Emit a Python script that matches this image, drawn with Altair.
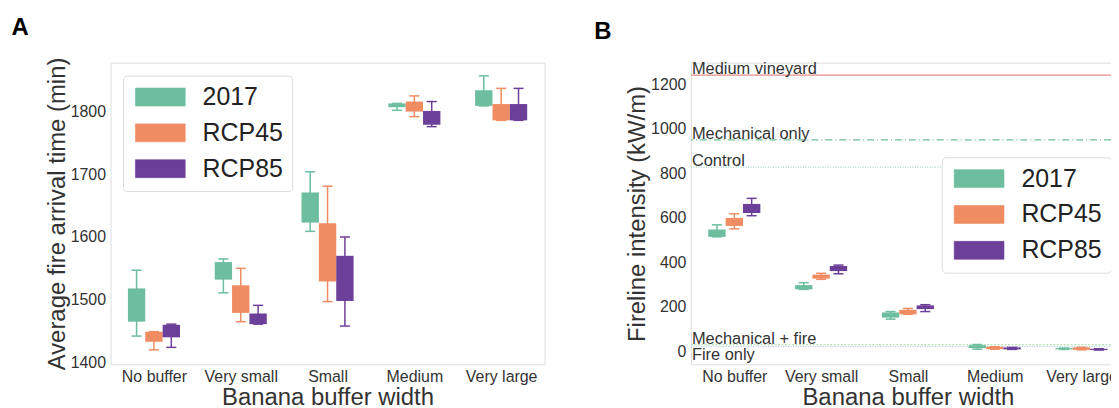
import altair as alt
import pandas as pd

FONT = "Liberation Sans"

categories = ["No buffer", "Very small", "Small", "Medium", "Very large"]
scenarios = ["2017", "RCP45", "RCP85"]
colors = ["#6cbe9f", "#ef8c62", "#6c3f99"]

# Panel A: average fire arrival time (min)
a_lo = {"2017": [1442, 1511, 1609, 1802, 1809],
        "RCP45": [1420, 1465, 1497, 1792, 1786],
        "RCP85": [1424, 1461, 1458, 1776, 1786]}
a_q1 = {"2017": [1465, 1532, 1623, 1807, 1809],
        "RCP45": [1433, 1479, 1529, 1800, 1786],
        "RCP85": [1440, 1461, 1498, 1779, 1786]}
a_q3 = {"2017": [1518, 1560, 1671, 1813, 1834],
        "RCP45": [1449, 1523, 1622, 1816, 1812],
        "RCP85": [1460, 1478, 1570, 1801, 1812]}
a_hi = {"2017": [1547, 1565, 1704, 1813, 1857],
        "RCP45": [1449, 1550, 1681, 1825, 1837],
        "RCP85": [1461, 1491, 1600, 1816, 1837]}

# Panel B: fireline intensity (kW/m)
b_lo = {"2017": [515, 279, 145, 10, 9],
        "RCP45": [551, 324, 167, 10, 7],
        "RCP85": [610, 349, 179, 9, 6]}
b_q1 = {"2017": [515, 279, 152, 15, 9],
        "RCP45": [564, 327, 167, 10, 7],
        "RCP85": [622, 361, 190, 9, 6]}
b_q3 = {"2017": [548, 298, 175, 28, 15],
        "RCP45": [600, 345, 187, 21, 18],
        "RCP85": [663, 384, 207, 18, 12]}
b_hi = {"2017": [569, 309, 179, 31, 15],
        "RCP45": [619, 351, 193, 21, 18],
        "RCP85": [688, 388, 210, 18, 12]}

ref_names = ["Medium vineyard", "Mechanical only", "Control", "Mechanical + fire", "Fire only"]
ref_values = [1242, 951, 828, 30, 22]
ref_colors = ["#e88c8c", "#6fbf98", "#9fd2c4", "#a3d9a3", "#a9c9e0"]
ref_dashes = [[1, 0], [7, 3, 1, 3], [1, 1.5], [2, 1.5], [1, 1.5]]

PLOT_W = 436
PLOT_H = 303
STEP = 87.2


def build_df(lo, q1, q3, hi):
    rows = []
    for s in scenarios:
        for i, c in enumerate(categories):
            rows.append({"idx": i, "cat": c, "scenario": s,
                         "sidx": scenarios.index(s),
                         "lo": lo[s][i], "q1": q1[s][i], "q3": q3[s][i], "hi": hi[s][i]})
    return pd.DataFrame(rows)


label_expr = "[" + ",".join("'" + c + "'" for c in categories) + "][datum.value]"
color_scale = alt.Scale(domain=scenarios, range=colors)


def panel(df, ydomain, yticks, ytitle, letter, letter_dx, legend_x, legend_y, extra=None):
    base = alt.Chart(df).transform_calculate(
        pos="datum.idx + (datum.sidx - 1) * 0.2",
        xl="datum.idx + (datum.sidx - 1) * 0.2 - 0.1",
        xr="datum.idx + (datum.sidx - 1) * 0.2 + 0.1",
        cl="datum.idx + (datum.sidx - 1) * 0.2 - 0.058",
        cr="datum.idx + (datum.sidx - 1) * 0.2 + 0.058",
    )
    xdom = [-0.5, -0.5 + PLOT_W / STEP]
    xax = alt.Axis(values=list(range(len(categories))), labelExpr=label_expr, grid=False,
                   ticks=False, domain=False, labelFontSize=16, labelColor="#333",
                   labelPadding=4, labelFlush=False, labelOverlap=False,
                   title="Banana buffer width", titleFontSize=24, titleFontWeight="normal",
                   titleColor="#333", titlePadding=1, labelFont=FONT, titleFont=FONT)
    yax = alt.Axis(values=yticks, format="d", grid=False, ticks=False, domain=False,
                   labelFontSize=16, labelColor="#333", labelPadding=5, title=ytitle,
                   titleFontSize=24, titleFontWeight="normal", titleColor="#333",
                   titlePadding=1, labelFont=FONT, titleFont=FONT)
    xs = alt.Scale(domain=xdom, nice=False, zero=False)
    ys = alt.Scale(domain=ydomain, nice=False, zero=False)
    leg = alt.Legend(
        title=None, orient="none", legendX=legend_x, legendY=legend_y,
        symbolType="M-1,-1H4.556V1H-1Z", symbolSize=324,
        symbolStrokeColor="#666", symbolStrokeWidth=0.6,
        labelFontSize=25, labelFont=FONT, labelColor="#222", labelOffset=46,
        rowPadding=10, padding=9, fillColor="white", strokeColor="#dcdcdc",
        cornerRadius=4)
    col = alt.Color("scenario:N", scale=color_scale, legend=leg)

    whisk = base.mark_rule(strokeWidth=1.5).encode(
        x=alt.X("pos:Q", scale=xs, axis=xax), y=alt.Y("lo:Q", scale=ys, axis=yax), y2="hi:Q", color=col)
    cap_lo = base.mark_rule(strokeWidth=1.5).encode(
        x="cl:Q", x2="cr:Q", y="lo:Q", color=col)
    cap_hi = base.mark_rule(strokeWidth=1.5).encode(
        x="cl:Q", x2="cr:Q", y="hi:Q", color=col)
    box = base.mark_rect().encode(
        x="xl:Q", x2="xr:Q", y="q1:Q", y2="q3:Q", color=col)
    layers = [whisk, cap_lo, cap_hi, box]
    if extra is not None:
        layers = extra + layers
    return alt.layer(*layers).properties(
        width=PLOT_W, height=PLOT_H,
        title=alt.TitleParams(letter, anchor="start", frame="group", fontSize=24,
                              fontWeight="bold", font=FONT, color="black",
                              dx=letter_dx, dy=2, offset=0, baseline="alphabetic"))


dfa = build_df(a_lo, a_q1, a_q3, a_hi)
dfb = build_df(b_lo, b_q1, b_q3, b_hi)

ref_df = pd.DataFrame({"name": ref_names, "value": ref_values, "xpos": -0.5})
ref_rules = alt.Chart(ref_df).mark_rule(strokeWidth=1.2).encode(
    y="value:Q",
    stroke=alt.Stroke("name:N", scale=alt.Scale(domain=ref_names, range=ref_colors), legend=None),
    strokeDash=alt.StrokeDash("name:N", scale=alt.Scale(domain=ref_names, range=ref_dashes), legend=None),
)
ref_text_above = alt.Chart(ref_df).transform_filter("datum.name != 'Fire only'").mark_text(
    align="left", baseline="alphabetic", dx=1, dy=-1, fontSize=16.5, font=FONT, color="#333"
).encode(x="xpos:Q", y="value:Q", text="name:N")
ref_text_below = alt.Chart(ref_df).transform_filter("datum.name == 'Fire only'").mark_text(
    align="left", baseline="top", dx=1, dy=1, fontSize=16.5, font=FONT, color="#333"
).encode(x="xpos:Q", y="value:Q", text="name:N")

chart_a = panel(dfa, [1397, 1878], [1400, 1500, 1600, 1700, 1800],
                "Average fire arrival time (min)", "A", -99.5, 12.5, 13)
chart_b = panel(dfb, [-58, 1298], [0, 200, 400, 600, 800, 1000, 1200],
                "Fireline intensity (kW/m)", "B", -97, 252, 95,
                extra=[ref_rules, ref_text_above, ref_text_below])

chart = alt.hconcat(chart_a, chart_b, spacing=48).resolve_scale(
    color="independent", x="independent", y="independent",
    stroke="independent", strokeDash="independent"
).properties(padding={"left": 3, "top": 6, "right": -16, "bottom": 0}).configure_view(
    stroke="#9a9a9a", strokeWidth=1.2
).configure(font=FONT)

chart.save("out.html", embed_options={"renderer": "svg", "actions": False})
